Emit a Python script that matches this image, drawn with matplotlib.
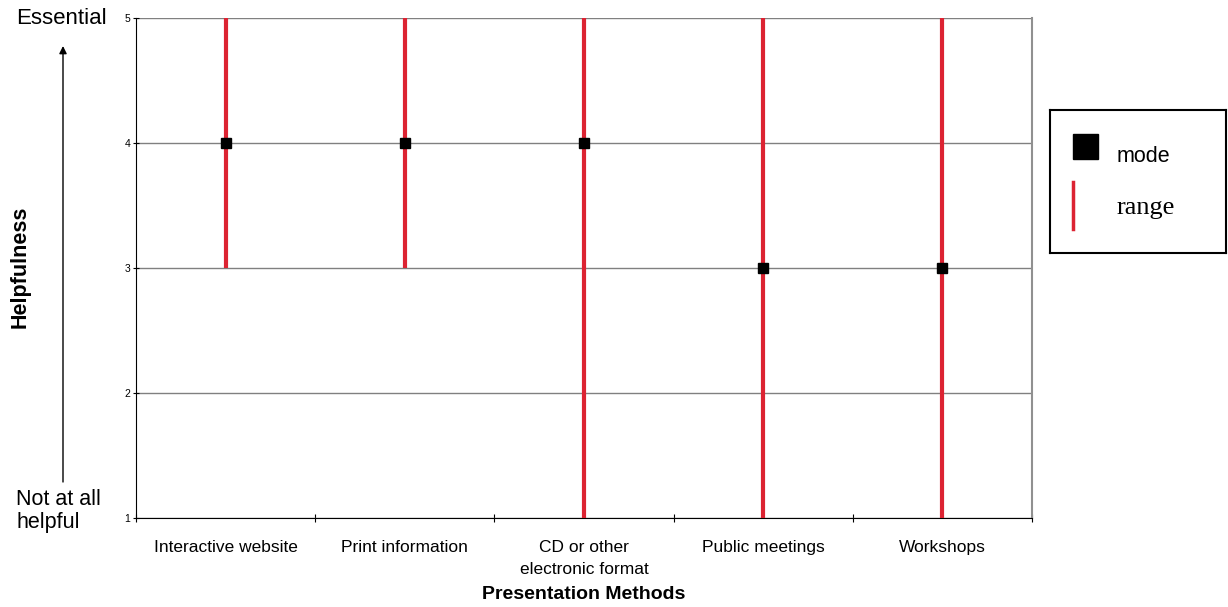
import matplotlib.pyplot as plt
import numpy as np

methods = ["Interactive website", "Print information", "CD or other\nelectronic format",
           "Public meetings", "Workshops"]
mode_vals = [4, 4, 4, 3, 3]
range_low = [3, 3, 1, 1, 1]
range_high = [5, 5, 5, 5, 5]
y_ticks = [1, 2, 3, 4, 5]

red = "#dc2332"
plt.rcParams['font.family'] = ['Liberation Sans', 'DejaVu Sans']

fig = plt.figure(figsize=(12.28, 6.07), dpi=100)
ax = fig.add_axes([0.1107, 0.1466, 0.7296, 0.8237])

x = np.arange(len(methods))
ax.vlines(x, range_low, range_high, color=red, linewidth=3, zorder=3)
ax.plot(x, mode_vals, 's', color='black', markersize=7.5, zorder=4)

ax.set_xlim(-0.5, len(methods) - 0.5)
ax.set_ylim(1, 5)
ax.set_yticks(y_ticks)
ax.set_yticklabels([str(v) for v in y_ticks], fontsize=7.5)
ax.yaxis.grid(True, color='#808080', linewidth=1)
ax.set_axisbelow(True)

ax.set_xticks(np.arange(len(methods) + 1) - 0.5)
ax.set_xticklabels([])
ax.set_xticks(x, minor=True)
ax.set_xticklabels(methods, minor=True, fontsize=12.5, linespacing=1.58)
ax.tick_params(axis='x', which='minor', length=0, pad=16)
ax.tick_params(axis='x', which='major', length=6, direction='inout')
ax.tick_params(axis='y', length=4, direction='inout', pad=2)

ax.spines['top'].set_visible(False)
ax.spines['right'].set_color('#909090')
ax.spines['right'].set_linewidth(1.5)
ax.spines['left'].set_color('black')
ax.spines['bottom'].set_color('black')

ax.set_xlabel("Presentation Methods", fontsize=14, fontweight='bold', labelpad=6)

fig.text(20 / 1228, 1 - 267 / 607, "Helpfulness", rotation=90, fontsize=15.5,
         fontweight='bold', ha='center', va='center')
fig.text(16 / 1228, 1 - 19 / 607, "Essential", fontsize=16, ha='left', va='center')
fig.text(16 / 1228, 1 - 511 / 607, "Not at all\nhelpful", fontsize=15.5, ha='left',
         va='center', linespacing=1.1)
fig.add_artist(plt.matplotlib.patches.FancyArrowPatch(
    (63 / 1228, 1 - 482 / 607), (63 / 1228, 1 - 46 / 607), transform=fig.transFigure,
    arrowstyle='-|>', mutation_scale=11, color='black', linewidth=1, shrinkA=0, shrinkB=0))

# legend box
lax = fig.add_axes([1050 / 1228, 1 - 253 / 607, 176 / 1228, 143 / 607])
lax.set_xlim(0, 176)
lax.set_ylim(143, 0)
lax.set_xticks([])
lax.set_yticks([])
for s in lax.spines.values():
    s.set_linewidth(1.5)
lax.plot([35], [36], 's', color='black', markersize=18)
lax.text(67, 47, "mode", fontsize=15.5, va='center', ha='left')
lax.plot([23, 23], [72, 119], color=red, linewidth=2.5)
lax.text(67, 98, "range", fontsize=19, va='center', ha='left',
         family=['Liberation Serif', 'DejaVu Serif'])

fig.savefig("out.png", dpi=100)
